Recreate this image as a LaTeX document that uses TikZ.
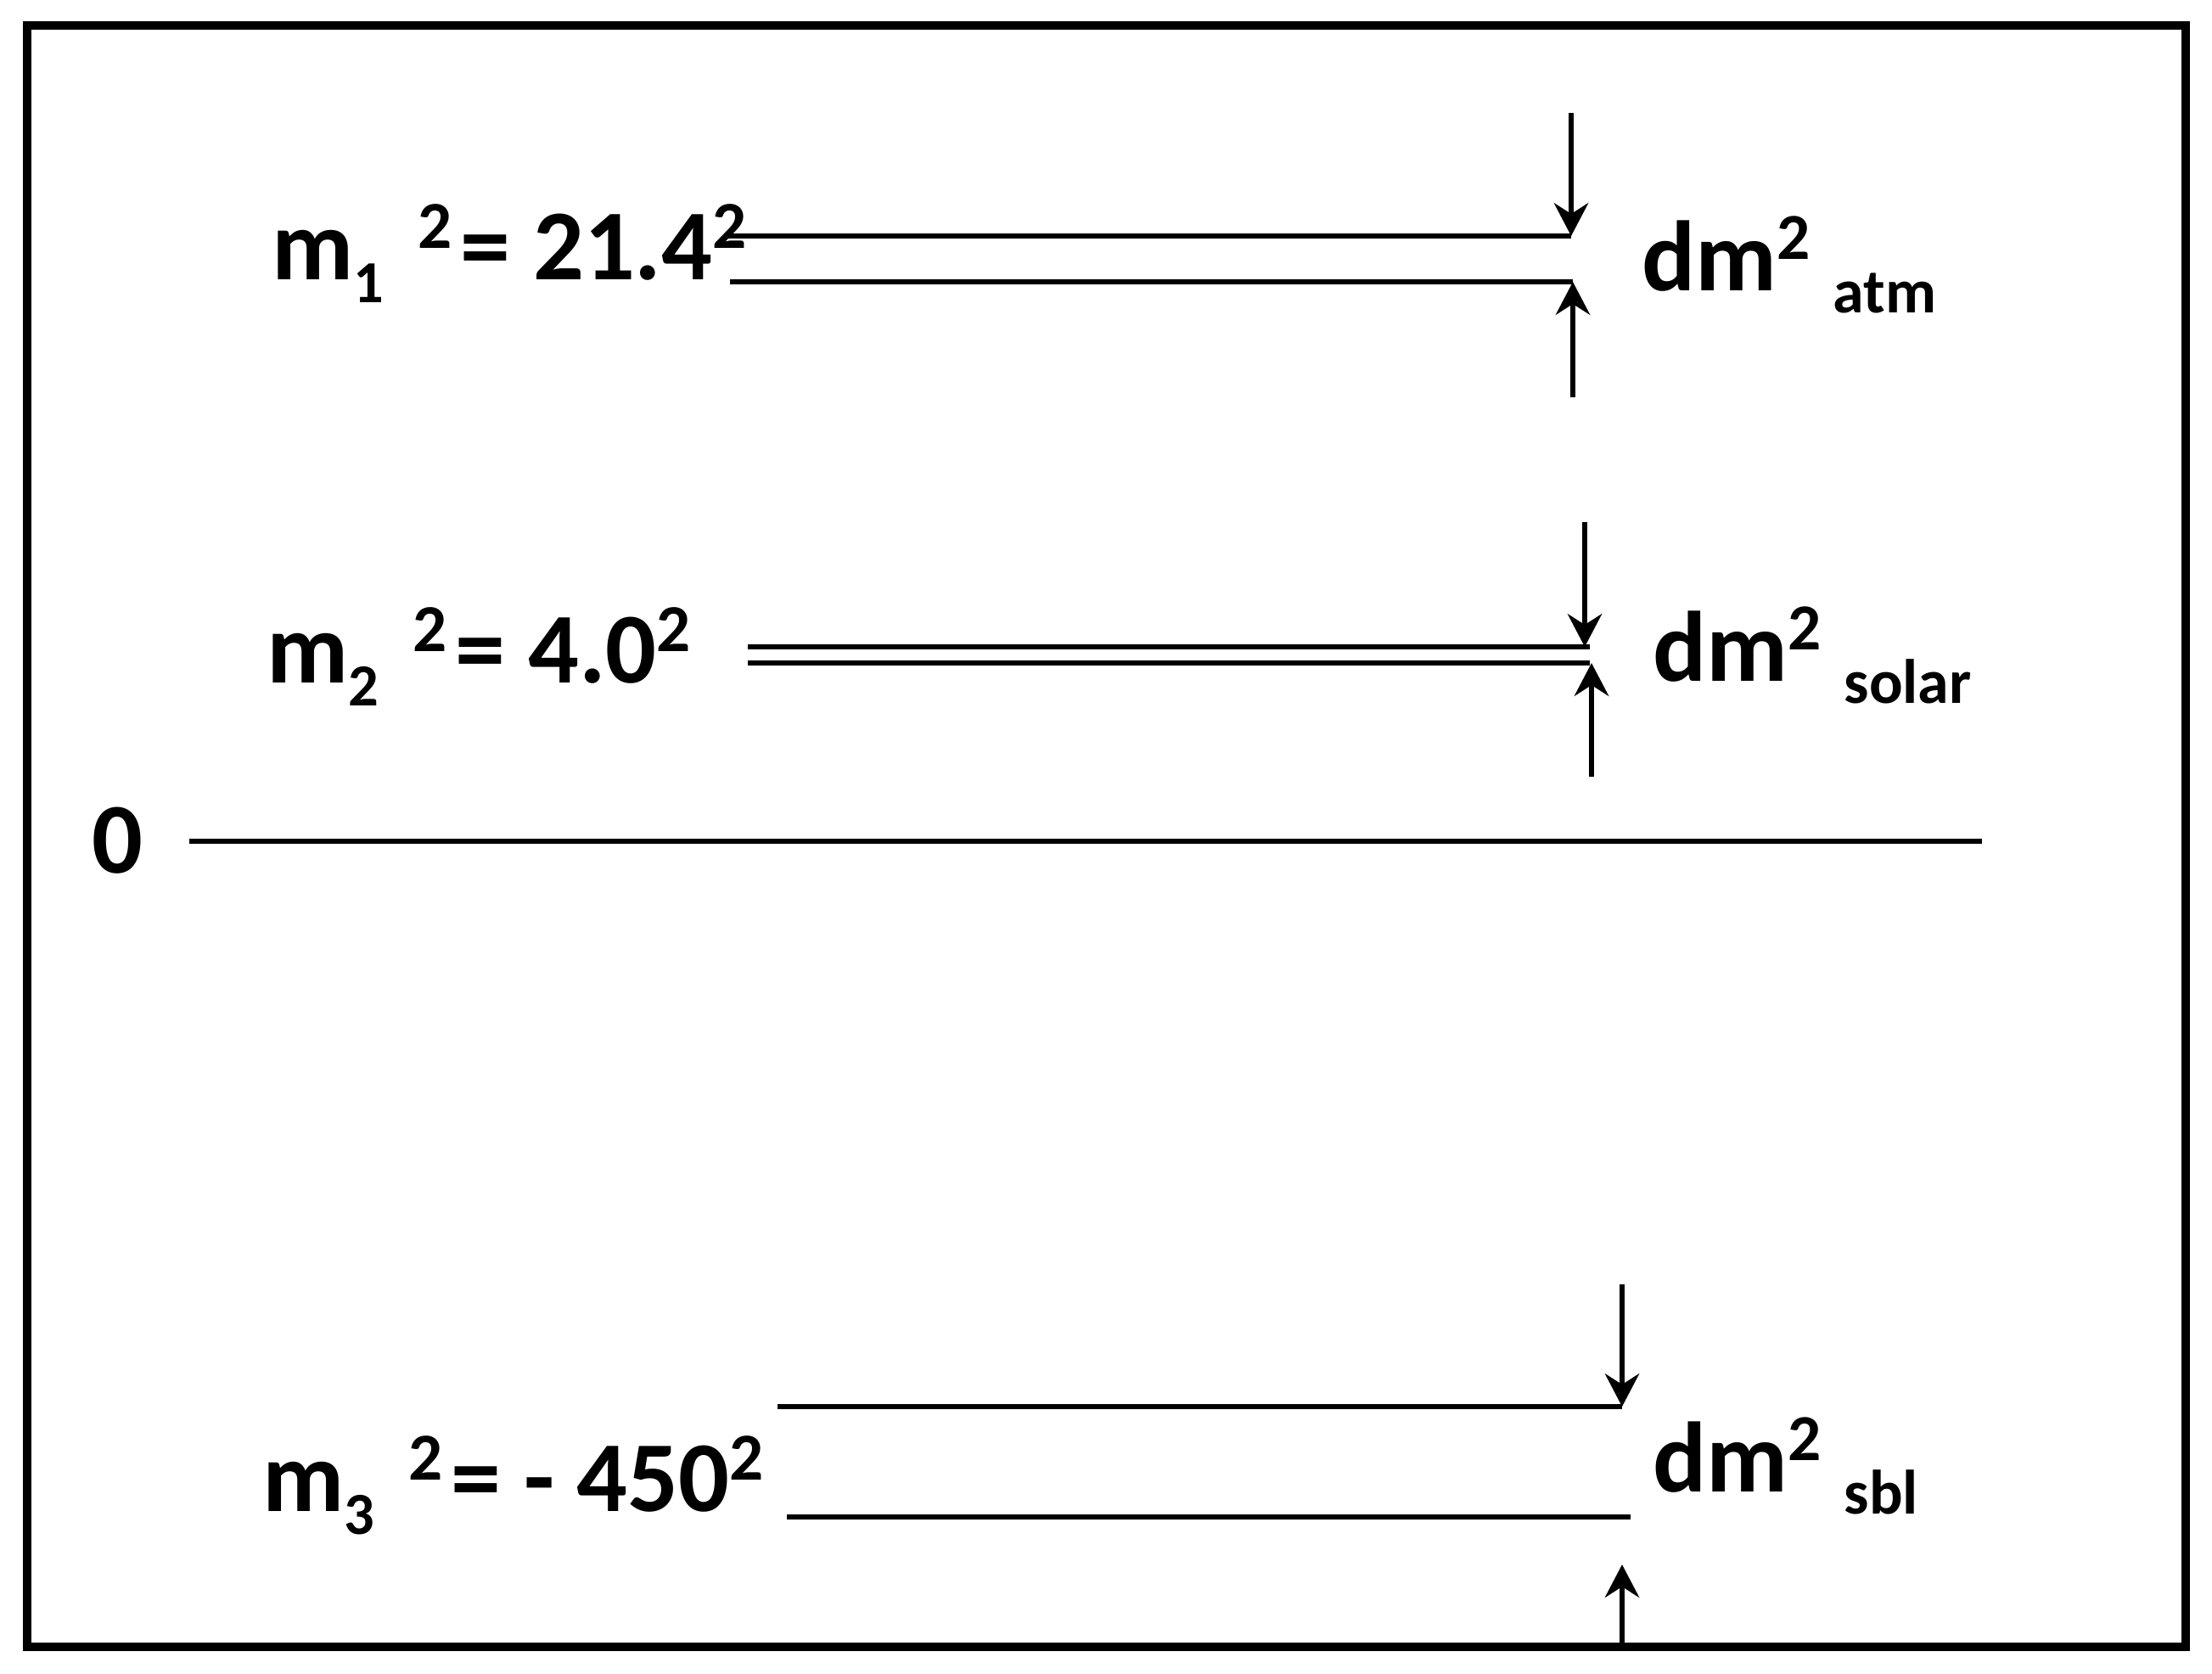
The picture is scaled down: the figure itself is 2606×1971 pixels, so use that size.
\documentclass[tikz,border=0pt]{standalone}
\usepackage{fontspec}
\setmainfont{Carlito}
\usetikzlibrary{arrows.meta}
\newlength\pxu
\setlength\pxu{0.01cm}
\newcommand{\lsub}[1]{\raisebox{-27\pxu}{\fontsize{20pt}{22pt}\selectfont #1}}
\newcommand{\lsup}[1]{\raisebox{37\pxu}{\fontsize{22.5pt}{24pt}\selectfont #1}}
\newcommand{\rsub}[1]{\raisebox{-26\pxu}{\fontsize{21pt}{22pt}\selectfont #1}}
\newcommand{\rsup}[1]{\raisebox{37\pxu}{\fontsize{22pt}{23pt}\selectfont #1}}
\newcommand{\mlab}[2]{m\lsub{#1}\hspace{40\pxu}\lsup{2}\hspace{10\pxu}= #2\lsup{2}}
\begin{document}
\begin{tikzpicture}[x=0.01cm,y=-0.01cm,
  lbl/.style={anchor=base west,inner sep=0pt,font=\fontsize{33.6pt}{37pt}\selectfont\bfseries},
  dlbl/.style={anchor=base west,inner sep=0pt,font=\fontsize{33.5pt}{36pt}\selectfont\bfseries},
  lev/.style={line width=1.45pt},
  zero/.style={line width=1.7pt},
  arr/.style={line width=1.9pt,-{Stealth[length=11pt,width=11.4pt,inset=3.6pt]}},
  frame/.style={line width=3.05pt}]
\useasboundingbox (0,0) rectangle (2606,1971);
\draw[frame] (32,30) rectangle (2575,1940);
% labels
\node[lbl] (m1) at (320,329) {\mlab{1}{21.4}};
\node[lbl] (m2) at (314,804) {\mlab{2}{4.0}};
\node[lbl] (m3) at (309,1780) {\mlab{3}{- 450}};
\node[lbl] (z) at (108,1028) {0};
\node[dlbl] (d1) at (1934,342) {dm\rsup{2} \rsub{atm}};
\node[dlbl] (d2) at (1947,802) {dm\rsup{2} \rsub{solar}};
\node[dlbl] (d3) at (1947,1757) {dm\rsup{2} \rsub{sbl}};
% coordinates
\coordinate (a1s) at (857,278); \coordinate (a1e) at (1851,278);
\coordinate (b1s) at (860,332); \coordinate (b1e) at (1853,332);
\coordinate (t1) at (1851,133); \coordinate (u1) at (1853,468);
\coordinate (a2s) at (881,762); \coordinate (a2e) at (1873,762);
\coordinate (b2s) at (881,781); \coordinate (b2e) at (1873,781);
\coordinate (t2) at (1867,615); \coordinate (u2) at (1875,915);
\coordinate (a3s) at (916,1657); \coordinate (a3e) at (1911,1657);
\coordinate (b3s) at (927,1787); \coordinate (b3e) at (1921,1787);
\coordinate (t3) at (1911,1513); \coordinate (u3) at (1911,1940);
\coordinate (u3t) at (1911,1843);
\coordinate (zs) at (223,991); \coordinate (ze) at (2335,991);
% level lines
\draw[lev] (a1s) -- (a1e);
\draw[lev] (b1s) -- (b1e);
\draw[lev] (a2s) -- (a2e);
\draw[lev] (b2s) -- (b2e);
\draw[lev] (a3s) -- (a3e);
\draw[lev] (b3s) -- (b3e);
\draw[zero] (zs) -- (ze);
% arrows
\draw[arr] (t1) -- (t1 |- a1e);
\draw[arr] (u1) -- (u1 |- b1e);
\draw[arr] (t2) -- (t2 |- a2e);
\draw[arr] (u2) -- (u2 |- b2e);
\draw[arr] (t3) -- (t3 |- a3e);
\draw[arr] (u3) -- (u3t);
\end{tikzpicture}
\end{document}
